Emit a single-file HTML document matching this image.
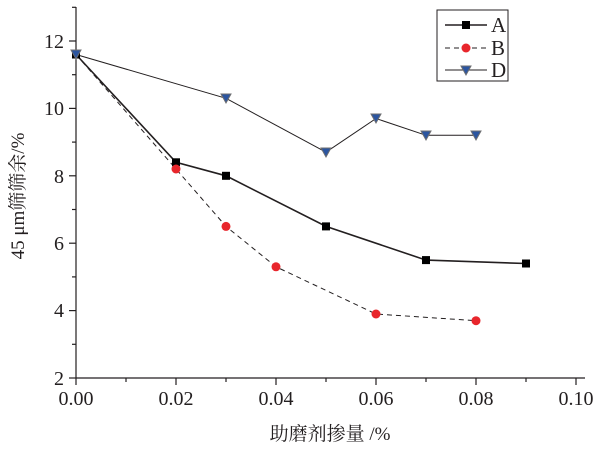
<!DOCTYPE html>
<html><head><meta charset="utf-8"><style>html,body{margin:0;padding:0;background:#fff}</style></head>
<body>
<svg width="604" height="446" viewBox="0 0 604 446" xmlns="http://www.w3.org/2000/svg" font-family="Liberation Serif, Noto Serif CJK SC, serif">
<g stroke="#231f20" stroke-width="1.2" fill="none">
<line x1="76" y1="7" x2="76" y2="378"/>
<line x1="76" y1="378" x2="585" y2="378"/>
<line x1="76" y1="378" x2="76" y2="385"/><line x1="126" y1="378" x2="126" y2="382"/>
<line x1="176" y1="378" x2="176" y2="385"/><line x1="226" y1="378" x2="226" y2="382"/>
<line x1="276" y1="378" x2="276" y2="385"/><line x1="326" y1="378" x2="326" y2="382"/>
<line x1="376" y1="378" x2="376" y2="385"/><line x1="426" y1="378" x2="426" y2="382"/>
<line x1="476" y1="378" x2="476" y2="385"/><line x1="526" y1="378" x2="526" y2="382"/>
<line x1="576" y1="378" x2="576" y2="385"/>
<line x1="69" y1="378" x2="76" y2="378"/><line x1="72" y1="344.3" x2="76" y2="344.3"/>
<line x1="69" y1="310.6" x2="76" y2="310.6"/><line x1="72" y1="276.9" x2="76" y2="276.9"/>
<line x1="69" y1="243.2" x2="76" y2="243.2"/><line x1="72" y1="209.5" x2="76" y2="209.5"/>
<line x1="69" y1="175.8" x2="76" y2="175.8"/><line x1="72" y1="142.1" x2="76" y2="142.1"/>
<line x1="69" y1="108.4" x2="76" y2="108.4"/><line x1="72" y1="74.7" x2="76" y2="74.7"/>
<line x1="69" y1="41" x2="76" y2="41"/><line x1="72" y1="7.3" x2="76" y2="7.3"/>
</g>
<g font-size="20" fill="#231f20" text-anchor="middle">
<text x="76" y="405">0.00</text><text x="176" y="405">0.02</text><text x="276" y="405">0.04</text>
<text x="376" y="405">0.06</text><text x="476" y="405">0.08</text><text x="576" y="405">0.10</text>
</g>
<g font-size="20" fill="#231f20" text-anchor="end">
<text x="64" y="385">2</text><text x="64" y="317">4</text><text x="64" y="250">6</text>
<text x="64" y="183">8</text><text x="64" y="115">10</text><text x="64" y="48">12</text>
</g>
<text x="330" y="440" font-size="19" text-anchor="middle" fill="#231f20">助磨剂掺量 /%</text>
<text transform="translate(24,196) rotate(-90)" font-size="19" text-anchor="middle" fill="#231f20">45 μm筛筛余/%</text>
<polyline fill="none" stroke="#231f20" stroke-width="1" points="76,54.5 226,98.3 326,152.2 376,118.5 426,135.3 476,135.3"/>
<polyline fill="none" stroke="#231f20" stroke-width="1" stroke-dasharray="5,4" points="76,54.5 176,169 226,226.4 276,266.8 376,314 476,320.7"/>
<polyline fill="none" stroke="#231f20" stroke-width="1.6" points="76,54.5 176,162.3 226,175.8 326,226.4 426,260.1 526,263.5"/>
<g fill="#000">
<rect x="72" y="50.5" width="8" height="8"/><rect x="172" y="158.3" width="8" height="8"/><rect x="222" y="171.8" width="8" height="8"/>
<rect x="322" y="222.4" width="8" height="8"/><rect x="422" y="256.1" width="8" height="8"/><rect x="522" y="259.5" width="8" height="8"/>
</g>
<g fill="#e8262c">
<circle cx="176" cy="169" r="4.5"/><circle cx="226" cy="226.4" r="4.5"/><circle cx="276" cy="266.8" r="4.5"/>
<circle cx="376" cy="314" r="4.5"/><circle cx="476" cy="320.7" r="4.5"/>
</g>
<g fill="#2b55a0" stroke="#6d6e71" stroke-width="1">
<path d="M71,50 h10 l-5,9 z"/><path d="M221,94 h10 l-5,9 z"/><path d="M321,148 h10 l-5,9 z"/>
<path d="M371,114 h10 l-5,9 z"/><path d="M421,131 h10 l-5,9 z"/><path d="M471,131 h10 l-5,9 z"/>
</g>
<rect x="437" y="10" width="71" height="71" fill="none" stroke="#231f20" stroke-width="1"/>
<line x1="445" y1="25" x2="487" y2="25" stroke="#231f20" stroke-width="1.6"/>
<rect x="462" y="21" width="8" height="8" fill="#000"/>
<line x1="445" y1="48" x2="487" y2="48" stroke="#231f20" stroke-width="1" stroke-dasharray="5,4"/>
<circle cx="466" cy="48" r="4.5" fill="#e8262c"/>
<line x1="445" y1="70" x2="487" y2="70" stroke="#231f20" stroke-width="1"/>
<path d="M461,66 h10 l-5,9 z" fill="#2b55a0" stroke="#6d6e71"/>
<g font-size="21" fill="#231f20">
<text x="491" y="32">A</text><text x="491" y="55">B</text><text x="491" y="77">D</text>
</g>
</svg>
</body></html>
